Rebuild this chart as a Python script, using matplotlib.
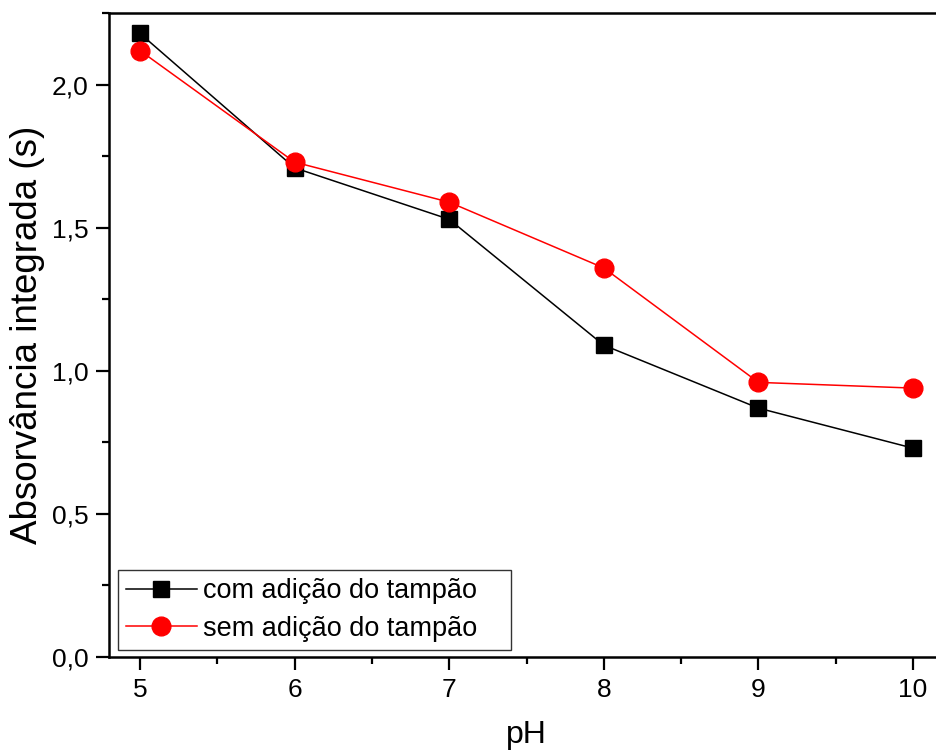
import numpy as np
import matplotlib.pyplot as plt
from matplotlib.ticker import MultipleLocator, FuncFormatter

plt.rcParams['font.family'] = ['Liberation Sans', 'DejaVu Sans']

# pH values and integrated absorbance
ph = [5, 6, 7, 8, 9, 10]
com_tampao = [2.18, 1.71, 1.53, 1.09, 0.87, 0.73]
sem_tampao = [2.12, 1.73, 1.59, 1.36, 0.96, 0.94]

W, H = 936, 751
fig = plt.figure(figsize=(W / 100, H / 100), dpi=100)
left, right, top, bottom = 109, 944, 12.5, 657
ax = fig.add_axes([left / W, (H - bottom) / H, (right - left) / W, (bottom - top) / H])

ax.plot(ph, com_tampao, '-', color='black', lw=1.1, marker='s', ms=11.5,
        mfc='black', mec='black', label='com adição do tampão')
ax.plot(ph, sem_tampao, '-', color='red', lw=1.1, marker='o', ms=13.5,
        mfc='red', mec='red', label='sem adição do tampão')

ax.set_xlim(4.8, 10.2)
ax.set_ylim(0, 2.253)

ax.xaxis.set_major_locator(MultipleLocator(1))
ax.xaxis.set_minor_locator(MultipleLocator(0.5))
ax.yaxis.set_major_locator(MultipleLocator(0.5))
ax.yaxis.set_minor_locator(MultipleLocator(0.25))
ax.yaxis.set_major_formatter(FuncFormatter(lambda v, p: f'{v:.1f}'.replace('.', ',')))

ax.tick_params(which='both', direction='out', width=1.6, labelsize=19)
ax.tick_params(which='major', length=9.4, pad=5.5)
ax.tick_params(which='minor', length=5)
for s in ax.spines.values():
    s.set_linewidth(1.8)

ax.set_xlabel('pH', fontsize=23, labelpad=13)
ax.set_ylabel('Absorvância integrada (s)', fontsize=26.5, labelpad=5)

# legend box stretched to a fixed width in axes coordinates
leg = ax.legend(loc='lower left', mode='expand',
                bbox_to_anchor=(9 / 835, 7 / 644.5, 393 / 835, 0), fontsize=19.5,
                frameon=True, fancybox=False, edgecolor='black', handlelength=2.6,
                handletextpad=0.25, borderpad=0.3, labelspacing=0.42, borderaxespad=0)
leg.get_frame().set_linewidth(1.0)

fig.savefig('out.png', dpi=100)
